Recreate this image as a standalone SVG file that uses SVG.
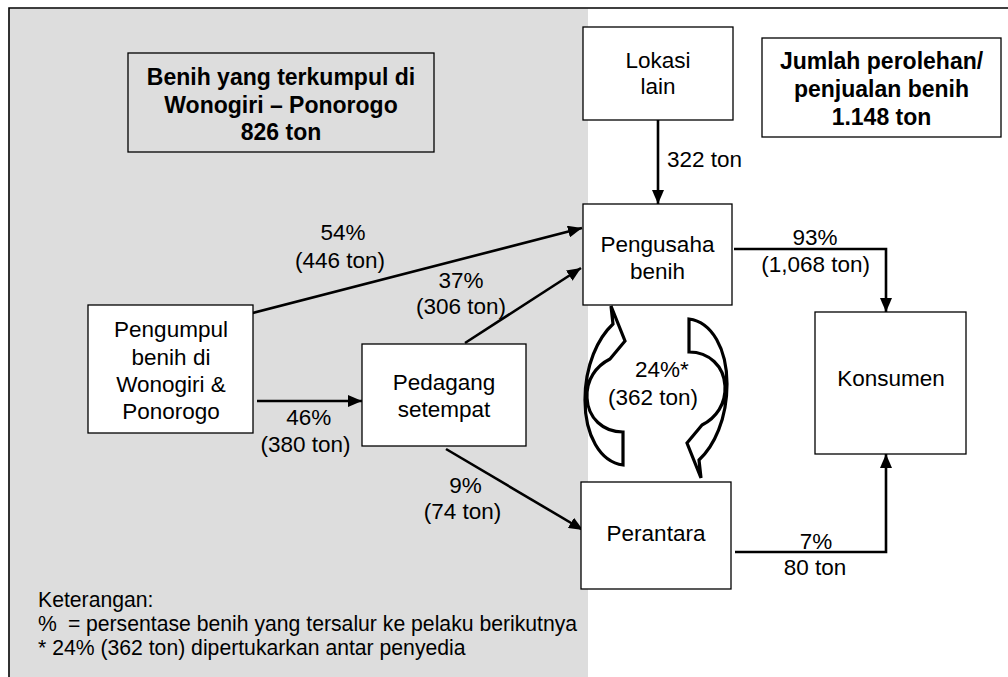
<svg xmlns="http://www.w3.org/2000/svg" xmlns:xlink="http://www.w3.org/1999/xlink" width="1008" height="677" viewBox="0 0 1008 677">
  <defs>
    <style>
      text { font-family: "Liberation Sans", Arial, sans-serif; font-size: 22.5px; fill: #000; }
      .b { font-weight: bold; font-size: 23px; }
      .c { text-anchor: middle; }
      .lg { font-size: 21.2px; }
      .box { fill: #fff; stroke: #000; stroke-width: 1.3; }
      .gbox { fill: none; stroke: #000; stroke-width: 1.3; }
      .con { fill: none; stroke: #000; stroke-width: 2.6; }
      .curv { fill: #fff; stroke: #000; stroke-width: 3.2; stroke-linejoin: miter; }
    </style>
    <marker id="ah" markerUnits="userSpaceOnUse" markerWidth="15" markerHeight="12" refX="14" refY="6" orient="auto">
      <path d="M0,0 L14,6 L0,12 Z" fill="#000"/>
    </marker>
    <path id="curved" d="M611,306 L625,341 L610,359 C596,366 586,380 587,398 C588,418 603,432 623,432 L623,465 C600,462 585,435 585,400 C585,365 598,338 613,324 Z"/>
  </defs>

  <rect x="0" y="0" width="1008" height="677" fill="#fff"/>
  <rect x="9.5" y="8.5" width="578.5" height="670" fill="#dddddd"/>
  <path d="M1008,8 H9 V677" fill="none" stroke="#000" stroke-width="1.6"/>

  <g id="connectors">
    <line class="con" x1="658" y1="120" x2="658" y2="204" marker-end="url(#ah)"/>
    <line class="con" x1="245" y1="315" x2="582" y2="228" marker-end="url(#ah)"/>
    <line class="con" x1="465" y1="343" x2="581" y2="268" marker-end="url(#ah)"/>
    <line class="con" x1="257" y1="401" x2="362" y2="401" marker-end="url(#ah)"/>
    <line class="con" x1="446" y1="449" x2="583" y2="530" marker-end="url(#ah)"/>
    <path class="con" d="M734,249 H886 V312" marker-end="url(#ah)"/>
    <path class="con" d="M735,552 H886 V454" marker-end="url(#ah)"/>
    <use xlink:href="#curved" href="#curved" class="curv"/>
    <use xlink:href="#curved" href="#curved" class="curv" transform="rotate(180 656 392)"/>
    <text x="667" y="167">322 ton</text>
    <text class="c" x="343" y="240">54%</text>
    <text class="c" x="340" y="268">(446 ton)</text>
    <text class="c" x="461" y="287.5">37%</text>
    <text class="c" x="461" y="314">(306 ton)</text>
    <text class="c" x="308.7" y="425">46%</text>
    <text class="c" x="305.5" y="452">(380 ton)</text>
    <text class="c" x="465.5" y="493">9%</text>
    <text class="c" x="462.5" y="519">(74 ton)</text>
    <text x="635" y="377">24%*</text>
    <text x="608" y="405">(362 ton)</text>
    <text class="c" x="815" y="245">93%</text>
    <text class="c" x="815.7" y="271.7">(1,068 ton)</text>
    <text class="c" x="816" y="549">7%</text>
    <text class="c" x="815" y="575">80 ton</text>
  </g>

  <g id="node-benih-terkumpul">
    <rect class="gbox" x="128" y="53" width="306" height="99"/>
    <text class="b c" x="281" y="85">Benih yang terkumpul di</text>
    <text class="b c" x="281" y="112.5">Wonogiri – Ponorogo</text>
    <text class="b c" x="281" y="140">826 ton</text>
  </g>

  <g id="node-lokasi-lain">
    <rect class="box" x="583" y="27" width="150" height="93"/>
    <text class="c" x="658" y="68">Lokasi</text>
    <text class="c" x="658" y="94">lain</text>
  </g>

  <g id="node-jumlah">
    <rect class="box" x="762" y="38" width="239" height="99"/>
    <text class="b c" x="881.5" y="68.5">Jumlah perolehan/</text>
    <text class="b c" x="881.5" y="96.5">penjualan benih</text>
    <text class="b c" x="881.5" y="124.5">1.148 ton</text>
  </g>

  <g id="node-pengusaha">
    <rect class="box" x="583" y="204" width="149" height="101"/>
    <text class="c" x="657.5" y="251.5">Pengusaha</text>
    <text class="c" x="657.5" y="278.5">benih</text>
  </g>

  <g id="node-pengumpul">
    <rect class="box" x="88" y="305" width="165" height="128"/>
    <text class="c" x="171" y="337">Pengumpul</text>
    <text class="c" x="171" y="364.5">benih di</text>
    <text class="c" x="171" y="392">Wonogiri &amp;</text>
    <text class="c" x="171" y="419">Ponorogo</text>
  </g>

  <g id="node-pedagang">
    <rect class="box" x="362" y="344" width="164" height="102"/>
    <text class="c" x="444" y="390">Pedagang</text>
    <text class="c" x="444" y="417">setempat</text>
  </g>

  <g id="node-konsumen">
    <rect class="box" x="815" y="312" width="151" height="142"/>
    <text class="c" x="891" y="386">Konsumen</text>
  </g>

  <g id="node-perantara">
    <rect class="box" x="581" y="482" width="150" height="107"/>
    <text class="c" x="656" y="541">Perantara</text>
  </g>

  <g id="legend">
    <text class="lg" x="38" y="607">Keterangan:</text>
    <text class="lg" y="631"><tspan x="38">%</tspan><tspan x="68">=</tspan><tspan x="86">persentase benih yang tersalur ke pelaku berikutnya</tspan></text>
    <text class="lg" x="38" y="655">* 24% (362 ton) dipertukarkan antar penyedia</text>
  </g>
</svg>
